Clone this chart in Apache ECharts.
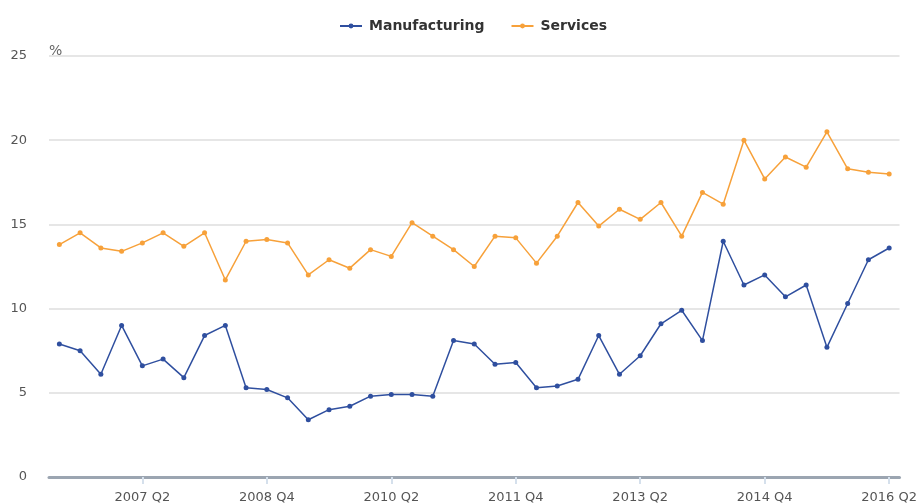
<!DOCTYPE html>
<html>
<head>
<meta charset="utf-8">
<script src="https://cdn.jsdelivr.net/npm/echarts@6/dist/echarts.min.js"></script>
<style>
  html, body { margin: 0; padding: 0; background: #fff; }
  #chart { width: 920px; height: 504px; }
</style>
</head>
<body>
<div id="chart"></div>
<script>
// Quarterly periods, 2006 Q2 to 2016 Q2
const quarters = [
  '2006 Q2','2006 Q3','2006 Q4','2007 Q1','2007 Q2','2007 Q3','2007 Q4','2008 Q1',
  '2008 Q2','2008 Q3','2008 Q4','2009 Q1','2009 Q2','2009 Q3','2009 Q4','2010 Q1',
  '2010 Q2','2010 Q3','2010 Q4','2011 Q1','2011 Q2','2011 Q3','2011 Q4','2012 Q1',
  '2012 Q2','2012 Q3','2012 Q4','2013 Q1','2013 Q2','2013 Q3','2013 Q4','2014 Q1',
  '2014 Q2','2014 Q3','2014 Q4','2015 Q1','2015 Q2','2015 Q3','2015 Q4','2016 Q1',
  '2016 Q2'
];

// Percent values per sector
const manufacturing = [
  7.9, 7.5, 6.1, 9.0, 6.6, 7.0, 5.9, 8.4, 9.0, 5.3,
  5.2, 4.7, 3.4, 4.0, 4.2, 4.8, 4.9, 4.9, 4.8, 8.1,
  7.9, 6.7, 6.8, 5.3, 5.4, 5.8, 8.4, 6.1, 7.2, 9.1,
  9.9, 8.1, 14.0, 11.4, 12.0, 10.7, 11.4, 7.7, 10.3, 12.9,
  13.6
];
const services = [
  13.8, 14.5, 13.6, 13.4, 13.9, 14.5, 13.7, 14.5, 11.7, 14.0,
  14.1, 13.9, 12.0, 12.9, 12.4, 13.5, 13.1, 15.1, 14.3, 13.5,
  12.5, 14.3, 14.2, 12.7, 14.3, 16.3, 14.9, 15.9, 15.3, 16.3,
  14.3, 16.9, 16.2, 20.0, 17.7, 19.0, 18.4, 20.5, 18.3, 18.1,
  18.0
];

const seriesNames = ['Manufacturing', 'Services'];
const seriesColors = ['#2f4f9f', '#f7a13a'];

// A label every six quarters, starting at 2007 Q2
const showQuarterLabel = (i) => i >= 4 && (i - 4) % 6 === 0;

const chart = echarts.init(document.getElementById('chart'), null, { renderer: 'canvas' });

const lineSeries = (name, data, color) => ({
  name: name,
  type: 'line',
  data: data,
  symbol: 'circle',
  symbolSize: 5,
  color: color,
  lineStyle: { width: 1.5, color: color },
  itemStyle: { color: color },
  emphasis: { disabled: true },
  animation: false
});

chart.setOption({
  animation: false,
  textStyle: { fontFamily: 'DejaVu Sans' },
  legend: {
    top: 14,
    left: 334,
    itemGap: 26,
    itemWidth: 22,
    itemHeight: 6,
    textStyle: { fontSize: 14, fontWeight: 'bold', color: '#333', fontFamily: 'DejaVu Sans', padding: [0, 0, 0, 2] },
    data: seriesNames
  },
  grid: { left: 49, right: 19, top: 56, bottom: 27, containLabel: false },
  xAxis: {
    type: 'category',
    data: quarters,
    boundaryGap: true,
    axisLine: { lineStyle: { color: '#9ba5b1', width: 3 } },
    axisTick: {
      show: true,
      alignWithLabel: true,
      interval: (i) => showQuarterLabel(i),
      length: 7,
      lineStyle: { color: '#d5e0ec', width: 2 }
    },
    axisLabel: {
      interval: (i) => showQuarterLabel(i),
      color: '#555',
      fontSize: 13,
      margin: 14,
      fontFamily: 'DejaVu Sans'
    },
    splitLine: { show: false }
  },
  yAxis: {
    type: 'value',
    min: 0,
    max: 25,
    interval: 5,
    name: '%',
    nameLocation: 'end',
    nameGap: 0,
    nameTextStyle: { color: '#666', fontSize: 14, align: 'left', verticalAlign: 'bottom', padding: [0, 0, -2, 0], fontFamily: 'DejaVu Sans' },
    axisLine: { show: false },
    axisTick: { show: false },
    axisLabel: { color: '#555', fontSize: 13, margin: 22, fontFamily: 'DejaVu Sans' },
    splitLine: { lineStyle: { color: '#e6e6e6', width: 2 } }
  },
  series: [
    lineSeries(seriesNames[0], manufacturing, seriesColors[0]),
    lineSeries(seriesNames[1], services, seriesColors[1])
  ]
});
</script>
</body>
</html>
